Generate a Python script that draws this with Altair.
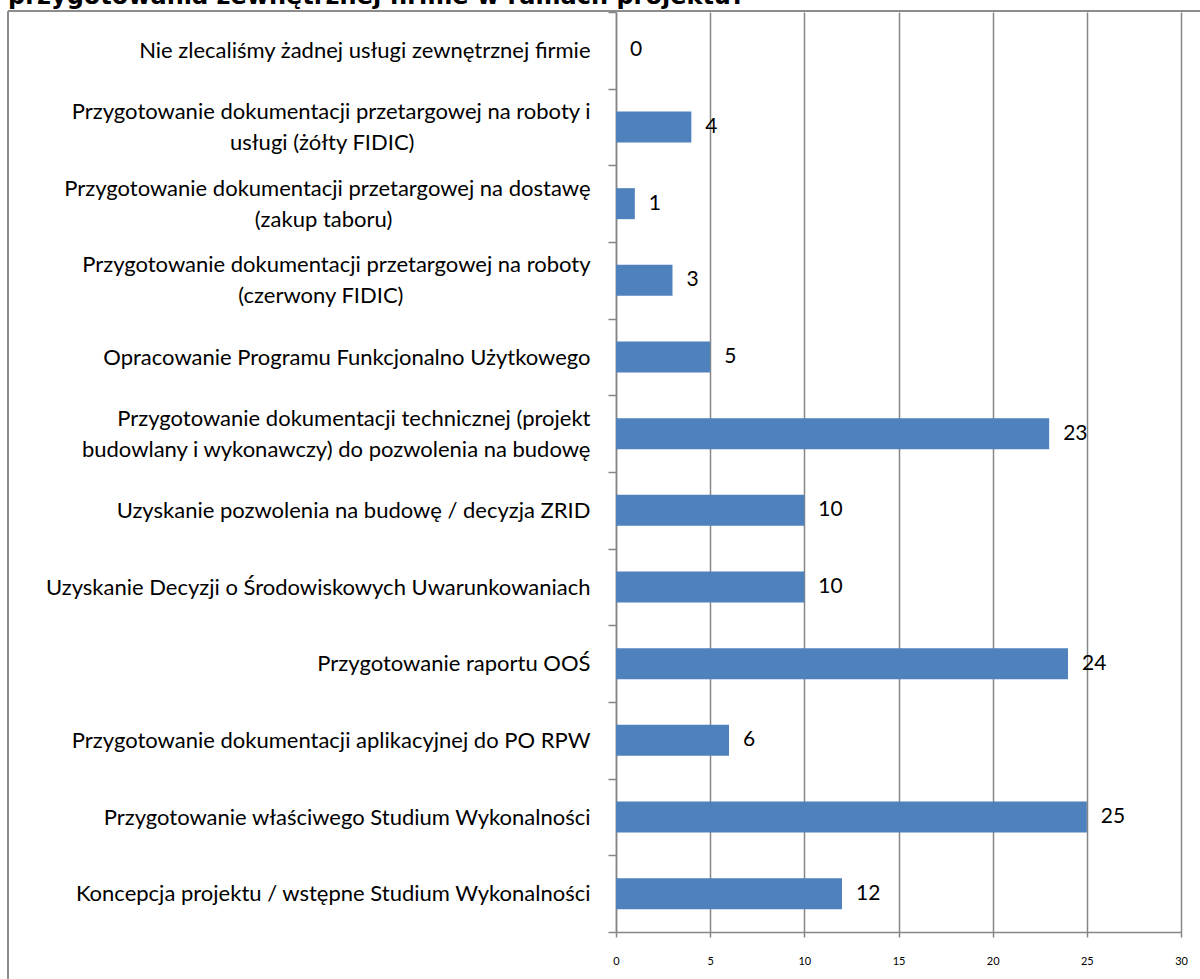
import altair as alt
import pandas as pd

# Categories (top to bottom); "|" marks a line break in the label
categories = [
    "Nie zlecaliśmy żadnej usługi zewnętrznej firmie",
    "Przygotowanie dokumentacji przetargowej na roboty i|usługi (żółty FIDIC)",
    "Przygotowanie dokumentacji przetargowej na dostawę|(zakup taboru)",
    "Przygotowanie dokumentacji przetargowej na roboty|(czerwony FIDIC)",
    "Opracowanie Programu Funkcjonalno Użytkowego",
    "Przygotowanie dokumentacji technicznej (projekt|budowlany i wykonawczy) do pozwolenia na budowę",
    "Uzyskanie pozwolenia na budowę / decyzja ZRID",
    "Uzyskanie Decyzji o Środowiskowych Uwarunkowaniach",
    "Przygotowanie raportu OOŚ",
    "Przygotowanie dokumentacji aplikacyjnej do PO RPW",
    "Przygotowanie właściwego Studium Wykonalności",
    "Koncepcja projektu / wstępne Studium Wykonalności",
]
values = [0, 4, 1, 3, 5, 23, 10, 10, 24, 6, 25, 12]
x_ticks = [0, 5, 10, 15, 20, 25, 30]
title_text = "przygotowania zewnętrznej firmie w ramach projektu?"

df = pd.DataFrame({"cat": categories, "value": values})
one = pd.DataFrame({"a": [0]})

GRAY = "#868686"
FONT = "Lato"

s = "split(datum.label,'|')"
m = f"max(length({s}[0]), length({s}[1]))"
Z = "'\u200b'"
label_expr = (
    f"length({s}) < 2 ? datum.label : "
    f"[{Z} + pad({s}[0], {m}, '\u2002', 'center') + {Z}, "
    f"{Z} + pad({s}[1], {m}, '\u2002', 'center') + {Z}]"
)

y_enc = alt.Y(
    "cat:N",
    sort=categories,
    scale=alt.Scale(paddingInner=0, paddingOuter=0),
    axis=alt.Axis(
        title=None,
        labelExpr=label_expr,
        labelFont=FONT,
        labelFontSize=22,
        labelColor="black",
        labelLineHeight=31,
        labelPadding=18,
        labelLimit=800,
        labelOffset={"condition": {"test": "indexof(datum.label,'|') >= 0", "value": -15.5}, "value": 0},
        tickSize=8,
        tickColor=GRAY,
        tickWidth=1.5,
        domainColor=GRAY,
        domainWidth=1.5,
        grid=False,
        tickBand="extent",
    ),
)
x_enc = alt.X(
    "value:Q",
    scale=alt.Scale(domain=[0, 30], nice=False),
    axis=alt.Axis(
        title=None,
        values=x_ticks,
        grid=True,
        gridColor=GRAY,
        gridWidth=1.5,
        domainColor=GRAY,
        domainWidth=1.5,
        tickColor=GRAY,
        tickWidth=1.5,
        tickSize=5,
        labelFont=FONT,
        labelFontSize=11,
        labelColor="black",
        labelPadding=18,
        labelFlush=False,
        labelOverlap=False,
    ),
)

bars = alt.Chart(df).mark_bar(size=31, color="#4F81BD").encode(x=x_enc, y=y_enc)
texts = alt.Chart(df).mark_text(
    align="left", baseline="middle", dx=14, font=FONT, fontSize=21, color="black"
).encode(x="value:Q", y=alt.Y("cat:N", sort=categories), text="value:Q")

frame_top = alt.Chart(one).mark_rule(color="#8C8C8C", strokeWidth=2).encode(
    x=alt.value(-608), x2=alt.value(590), y=alt.value(-1)
)
frame_left = alt.Chart(one).mark_rule(color="#8C8C8C", strokeWidth=2).encode(
    x=alt.value(-608), y=alt.value(-1), y2=alt.value(980)
)
title = alt.Chart(one).mark_text(
    align="left", baseline="alphabetic", font="DejaVu Sans", fontWeight="bold", fontSize=24, color="black"
).encode(x=alt.value(-608), y=alt.value(-8), text=alt.value(title_text))

chart = (
    alt.layer(frame_top, frame_left, bars, texts, title)
    .properties(
        width=565,
        height=920,
        autosize=alt.AutoSizeParams(type="none"),
        padding={"left": 616, "top": 12, "right": 19, "bottom": 47},
        background="white",
    )
    .configure_view(stroke=None)
)

chart.save("out.html", embed_options={"renderer": "svg", "actions": False})
